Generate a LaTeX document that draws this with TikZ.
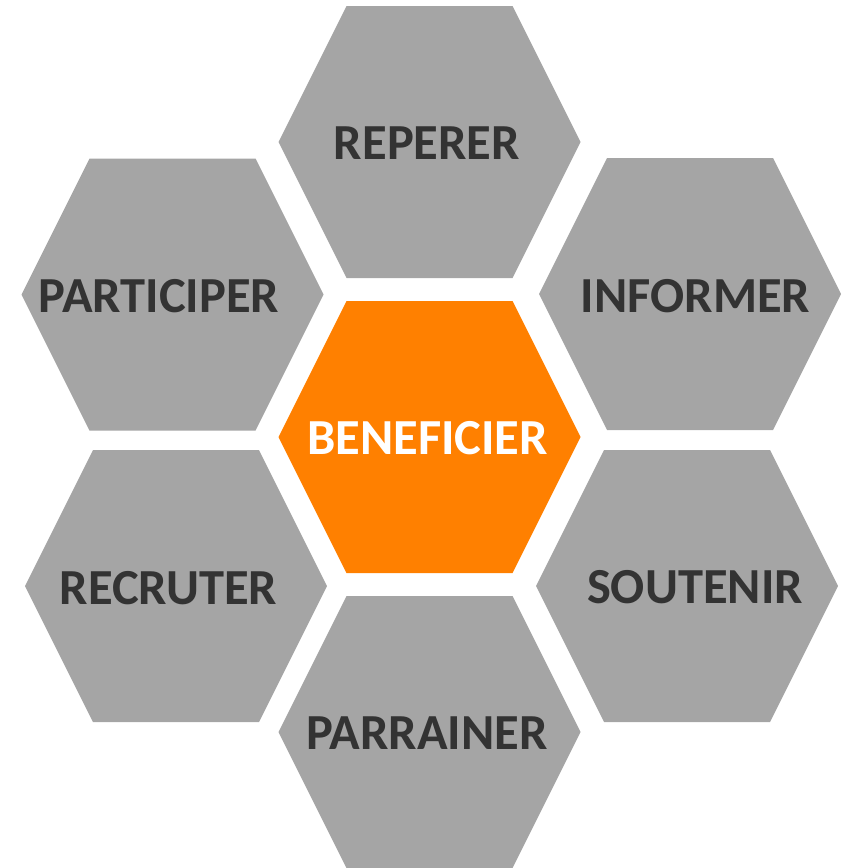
\documentclass[tikz,border=0pt]{standalone}
\usepackage{fontspec}
\setmainfont{Carlito}

\definecolor{cellgray}{HTML}{A5A5A5}
\definecolor{huborange}{HTML}{FF8000}
\definecolor{labeldark}{HTML}{333333}

% one hexagon, centre given as #1,#2
\newcommand{\hexcell}[3]{%
  \fill[#3, shift={(#1,#2)}] (-151,0) -- (-83,-136) -- (83,-136)
    -- (151,0) -- (83,136) -- (-83,136) -- cycle;}

\tikzset{
  cell/.style={fill=cellgray},
  hub/.style={fill=huborange},
  cell label/.style={font=\bfseries\fontsize{50.5}{60}\selectfont, text=labeldark, inner sep=0pt},
  hub label/.style={cell label, text=white},
}

\begin{document}
\begin{tikzpicture}[x=1pt, y=-1pt]
  \useasboundingbox (0,0) rectangle (843,868);

  % outer ring
  \foreach \x/\y/\tx/\ty/\nm/\word in {
      429.5/142/427/143/rep/REPERER,
      690/294/695.5/296/inf/INFORMER,
      687/586/695/587/sou/SOUTENIR,
      429.5/732/427/733/par/PARRAINER,
      176/586/168.5/588/rec/RECRUTER,
      172.5/294.5/159/296/pat/PARTICIPER}
  {
    \hexcell{\x}{\y}{cell}
    \node[cell label] (\nm) at (\tx,\ty) {\word};
  }

  % centre
  \hexcell{429.5}{437}{hub}
  \node[hub label] (ben) at (427.5,438) {BENEFICIER};
\end{tikzpicture}
\end{document}
